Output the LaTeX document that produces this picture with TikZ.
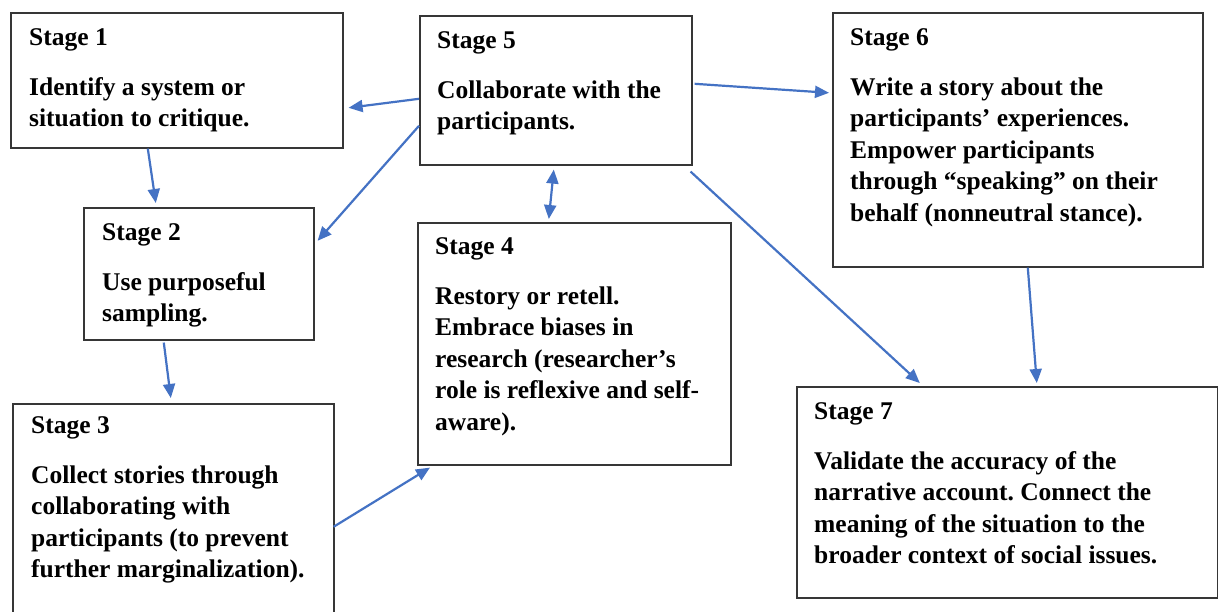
\documentclass[tikz,border=0pt]{standalone}
\usepackage{fontspec}
\setmainfont{Liberation Serif}
\usetikzlibrary{arrows.meta,calc}
\definecolor{arrblue}{HTML}{4472C4}
\definecolor{boxgray}{HTML}{363636}
\newcommand{\stagetext}[2]{\parbox[t]{420pt}{\frenchspacing\bfseries\fontsize{25.5}{31.5}\selectfont #1\par\vspace{18.5pt}#2}}
\begin{document}
\begin{tikzpicture}[x=1pt,y=-1pt,
  stagebox/.style={draw=boxgray,line width=1.6pt,fill=none,inner sep=0pt,anchor=north west},
  stagetxt/.style={inner sep=0pt,anchor=base west,text=black},
  arr/.style={draw=arrblue,line width=2.2pt,-{Triangle[length=14pt,width=12pt]}},
  darr/.style={draw=arrblue,line width=2.2pt,{Triangle[length=14pt,width=12pt]}-{Triangle[length=14pt,width=12pt]}}]
\useasboundingbox[fill=white] (0,0) rectangle (1218,611);
% boxes
\node[stagebox,minimum width=332pt,minimum height=135pt] (s1) at (10,12) {};
\node[stagebox,minimum width=272pt,minimum height=149pt] (s5) at (419,15) {};
\node[stagebox,minimum width=370pt,minimum height=254pt] (s6) at (832,12) {};
\node[stagebox,minimum width=230pt,minimum height=132pt] (s2) at (83,207) {};
\node[stagebox,minimum width=321pt,minimum height=217pt] (s3) at (12,403) {};
\node[stagebox,minimum width=313pt,minimum height=242pt] (s4) at (417,222) {};
\node[stagebox,minimum width=421pt,minimum height=211pt] (s7) at (796,386) {};
% texts
\node[stagetxt] (t1) at ($(s1.north west)+(19,33)$) {\stagetext{Stage 1}{Identify a system or\\situation to critique.}};
\node[stagetxt] (t5) at ($(s5.north west)+(18,33)$) {\stagetext{Stage 5}{Collaborate with the\\participants.}};
\node[stagetxt] (t6) at ($(s6.north west)+(18,33)$) {\stagetext{Stage 6}{Write a story about the\\participants’ experiences.\\Empower participants\\through “speaking” on their\\behalf (nonneutral stance).}};
\node[stagetxt] (t2) at ($(s2.north west)+(19,33)$) {\stagetext{Stage 2}{Use purposeful\\sampling.}};
\node[stagetxt] (t3) at ($(s3.north west)+(19,30)$) {\stagetext{Stage 3}{Collect stories through\\collaborating with\\participants (to prevent\\further marginalization).}};
\node[stagetxt] (t4) at ($(s4.north west)+(18,32)$) {\stagetext{Stage 4}{Restory or retell.\\Embrace biases in\\research (researcher’s\\role is reflexive and self-\\aware).}};
\node[stagetxt] (t7) at ($(s7.north west)+(18,33)$) {\stagetext{Stage 7}{Validate the accuracy of the\\narrative account. Connect the\\meaning of the situation to the\\broader context of social issues.}};
% arrows
\draw[arr] ($(s5.west)+(0,8.5)$) -- ($(s1.east)+(5,27.5)$);
\draw[arr] ($(s5.west)+(0,35.5)$) -- ($(s2.east)+(3,-33)$);
\draw[arr] ($(s1.south)+(-29,0)$) -- ($(s2.north)+(-43,-4)$);
\draw[arr] ($(s2.south)+(-35,2)$) -- ($(s3.north)+(-2.5,-5)$);
\draw[arr] ($(s3.east)+(-1,14.5)$) -- ($(s4.south west)+(13,2)$);
\draw[darr] ($(s5.south)+(-2,4)$) -- ($(s4.north)+(-25.5,-3)$);
\draw[arr] ($(s5.east)+(2,-6.5)$) -- ($(s6.west)+(-3,-47)$);
\draw[arr] ($(s5.south east)+(-2,6)$) -- ($(s7.north)+(-87.5,-3)$);
\draw[arr] ($(s6.south)+(10,0)$) -- ($(s7.north)+(29.5,-3)$);
\end{tikzpicture}
\end{document}
